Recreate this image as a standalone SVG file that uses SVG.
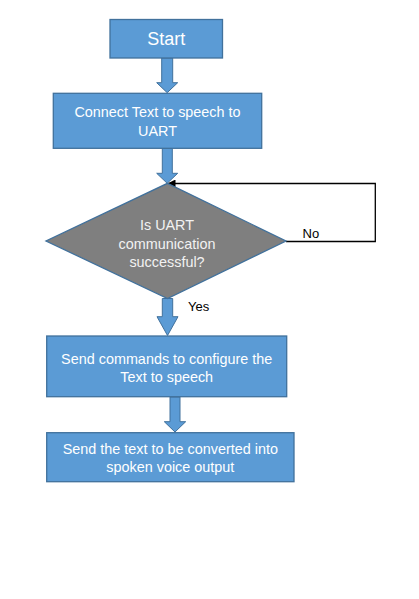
<svg xmlns="http://www.w3.org/2000/svg" width="419" height="599" viewBox="0 0 419 599">
<defs>
<style>
.box{fill:#5b9bd5;stroke:#41719c;stroke-width:1.3}
.dec{fill:#7f7f7f;stroke:#41719c;stroke-width:1.3}
.blk{fill:#5b9bd5;stroke:#41719c;stroke-width:1}
.t{font-family:"Liberation Sans",Arial,sans-serif;font-size:14.4px;fill:#ffffff;text-anchor:middle}
.td{font-family:"Liberation Sans",Arial,sans-serif;font-size:14.4px;fill:#f2f2f2;text-anchor:middle}
.lb{font-family:"Liberation Sans",Arial,sans-serif;font-size:13px;fill:#000000}
.ln{fill:none;stroke:#000000;stroke-width:1.3}
</style>
<marker id="ah" markerWidth="8" markerHeight="8" refX="7" refY="4" orient="auto" markerUnits="userSpaceOnUse">
<path d="M0,0 L8,4 L0,8 z" fill="#000000"/>
</marker>
</defs>
<rect width="419" height="599" fill="#ffffff"/>
<g id="connectors">
<path class="blk" d="M161.7,58 H172.7 V82.7 H177.7 L167.2,92.7 L156.7,82.7 H161.7 Z"/>
<path class="blk" d="M162.3,148.5 H172.3 V173.3 H177.7 L167.2,183.3 L156.7,173.3 H162.3 Z"/>
<path class="blk" d="M162.3,298.5 H172.7 V316.7 H178 L167.5,335.5 L157,316.7 H162.3 Z"/>
<path class="blk" d="M170,397 H180 V421.7 H185.7 L175,432 L164.3,421.7 H170 Z"/>
<path class="ln" d="M286,241.5 H375.3 V183.5 H168.5" marker-end="url(#ah)"/>
<text class="lb" x="302.5" y="238">No</text>
<text class="lb" x="188" y="311">Yes</text>
</g>
<g id="start">
<rect class="box" x="110" y="19.5" width="112.5" height="38.5"/>
<text class="t" x="166.3" y="45" style="font-size:18px">Start</text>
</g>
<g id="connect">
<rect class="box" x="53.3" y="93.3" width="208.4" height="55"/>
<text class="t" x="157.5" y="116.5">Connect Text to speech to</text>
<text class="t" x="157.5" y="135.5">UART</text>
</g>
<g id="decision">
<polygon class="dec" points="167.5,183.3 286,241 167.5,298.5 46,241"/>
<text class="td" x="167" y="229.5">Is UART</text>
<text class="td" x="167" y="248.5">communication</text>
<text class="td" x="167" y="266.5">successful?</text>
</g>
<g id="configure">
<rect class="box" x="46.7" y="336" width="240" height="60.7"/>
<text class="t" x="166.7" y="363.5">Send commands to configure the</text>
<text class="t" x="166.7" y="382">Text to speech</text>
</g>
<g id="send">
<rect class="box" x="46.7" y="432.7" width="247.3" height="49"/>
<text class="t" x="170.3" y="453.5">Send the text to be converted into</text>
<text class="t" x="170.3" y="472">spoken voice output</text>
</g>
</svg>
